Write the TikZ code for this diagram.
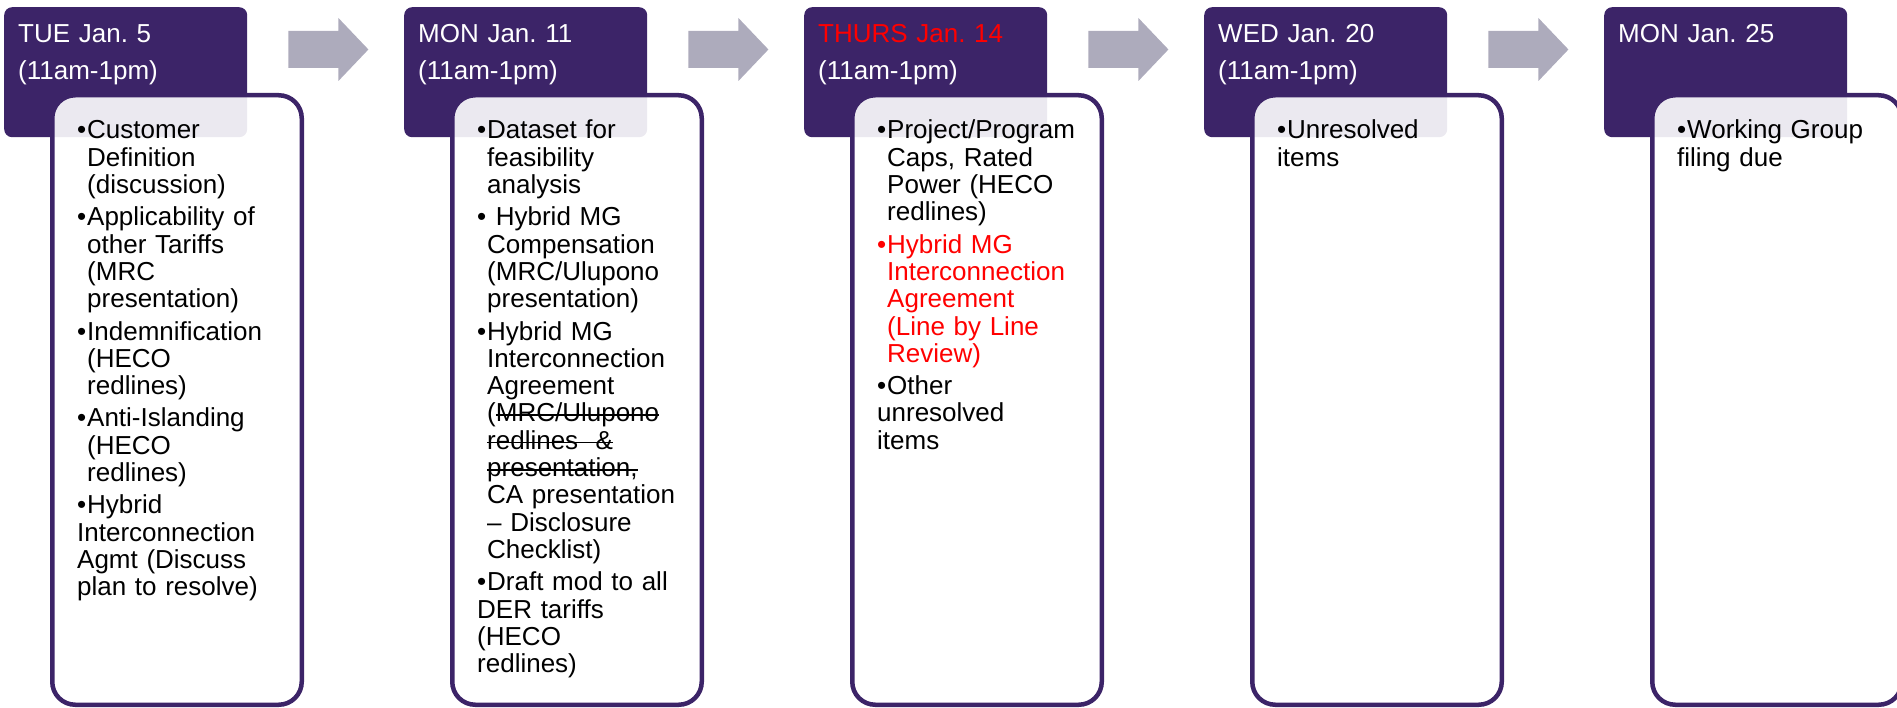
\documentclass[tikz,border=0pt]{standalone}
\usepackage{fontspec}
\setmainfont{Liberation Sans}
\usetikzlibrary{math}
\definecolor{headpurple}{RGB}{60,36,104}
\definecolor{arrowgrey}{RGB}{173,171,188}
\newcommand{\bul}[1][black]{\hangindent=10pt\hangafter=1\noindent\color{#1}\makebox[10pt][l]{\textbullet}}
\newsavebox{\strikebox}
\newcommand{\strike}[1]{\sbox{\strikebox}{#1}\rlap{\rule[6pt]{\wd\strikebox}{1.6pt}}\usebox{\strikebox}}

\begin{document}
\begin{tikzpicture}[
  x=1pt,y=-1pt,
  day_box/.style={
    fill=headpurple,rounded corners=8pt,anchor=north west,inner sep=0pt,
    minimum width=243pt,minimum height=130pt
  },
  topic_box/.style={
    draw=headpurple,line width=4.5pt,fill=white,fill opacity=0.9,
    rounded corners=23pt,anchor=north west,inner sep=0pt,outer sep=0pt,
    minimum width=249.5pt,minimum height=609.5pt
  },
  day_text/.style={
    anchor=base west,inner sep=0pt,text=white,text width=228pt,align=left,
    font=\fontsize{26}{37}\selectfont\frenchspacing
  },
  topic_text/.style={
    anchor=base west,inner sep=0pt,text width=225pt,align=left,
    font=\fontsize{26}{27.3}\selectfont\frenchspacing\setlength{\parskip}{5pt}\setlength{\parindent}{0pt}
  },
  next_arrow/.style={
    fill=arrowgrey
  }]
  \useasboundingbox (0,0) rectangle (1897,708);
  %
  \foreach \i in {1,...,5} {
    \tikzmath {
      \x = 400*(\i-1);
    }
    \node[day_box] (day\i) at (\x+4,7) {};
    \node[topic_box] (items\i) at (\x+52.25,95.25) {};
  }
  \foreach \i in {1,...,4} {
    \fill[next_arrow] ([shift={(41,24)}]day\i.north east) -- ++(50,0) -- ++(0,-13)
      -- ++(30,31.5) -- ++(-30,31.5) -- ++(0,-13) -- ++(-50,0) -- cycle;
  }
  %
  \node[day_text] (when1) at ([shift={(14,36)}]day1.north west) {TUE Jan. 5\\(11am-1pm)};
  \node[day_text] (when2) at ([shift={(14,36)}]day2.north west) {MON Jan. 11\\(11am-1pm)};
  \node[day_text] (when3) at ([shift={(14,36)}]day3.north west) {{\color{red}THURS Jan. 14}\\(11am-1pm)};
  \node[day_text] (when4) at ([shift={(14,36)}]day4.north west) {WED Jan. 20\\(11am-1pm)};
  \node[day_text] (when5) at ([shift={(14,36)}]day5.north west) {MON Jan. 25};
  %
  \node[topic_text] (topics1) at ([shift={(24.75,43.75)}]items1.north west) {%
    \bul Customer\newline Definition\newline (discussion)\par
    \bul Applicability of\newline other Tariffs\newline (MRC\newline presentation)\par
    \bul Indemnification\newline (HECO\newline redlines)\par
    \bul Anti-Islanding\newline (HECO\newline redlines)\par
    \bul Hybrid\newline Interconnection\newline Agmt (Discuss\newline plan to resolve)};
  \node[topic_text] (topics2) at ([shift={(24.75,43.75)}]items2.north west) {%
    \bul Dataset for\newline feasibility\newline analysis\par
    \bul\ Hybrid MG\newline Compensation\newline (MRC/Ulupono\newline presentation)\par
    \bul Hybrid MG\newline Interconnection\newline Agreement\newline (\strike{MRC/Ulupono}\newline
      \strike{redlines\ \ \&}\newline \strike{presentation,}\newline CA presentation\newline
      – Disclosure\newline Checklist)\par
    \bul Draft mod to all\newline DER tariffs\newline (HECO\newline redlines)};
  \node[topic_text] (topics3) at ([shift={(24.75,43.75)}]items3.north west) {%
    \bul Project/Program\newline Caps, Rated\newline Power (HECO\newline redlines)\par
    \bul[red]Hybrid MG\newline Interconnection\newline Agreement\newline (Line by Line\newline Review)\par
    \bul Other\newline unresolved\newline items};
  \node[topic_text] (topics4) at ([shift={(24.75,43.75)}]items4.north west) {%
    \bul Unresolved\newline items};
  \node[topic_text] (topics5) at ([shift={(24.75,43.75)}]items5.north west) {%
    \bul Working Group\newline filing due};
\end{tikzpicture}
\end{document}
